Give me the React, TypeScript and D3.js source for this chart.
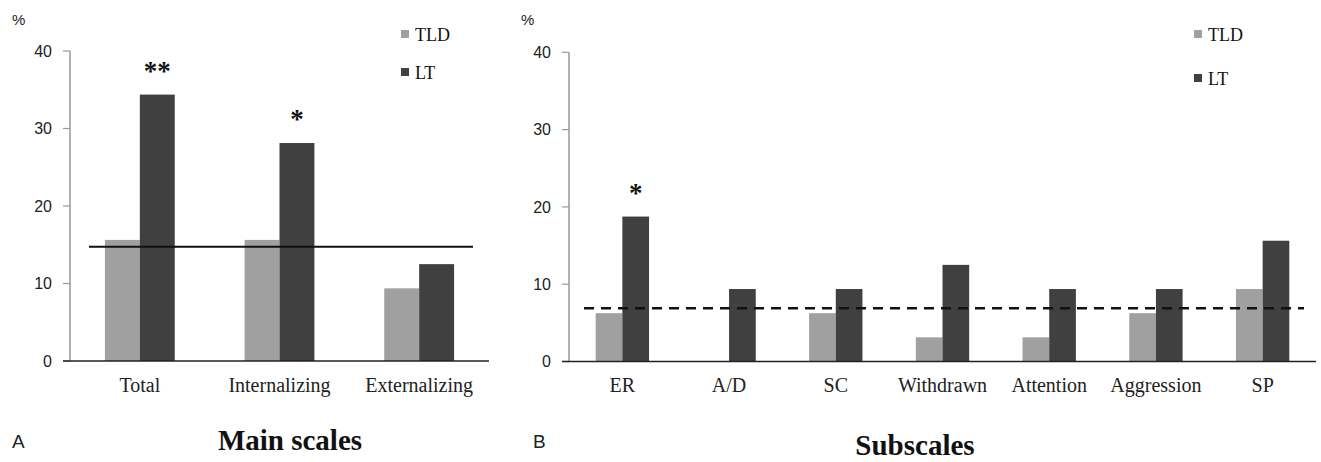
import React from "react";
import * as d3 from "d3";

// data (% of children above the clinical cut-off)
const groups = ["TLD", "LT"];
const mainCategories = ["Total", "Internalizing", "Externalizing"];
const mainTLD = [15.625, 15.625, 9.375];
const mainLT = [34.375, 28.125, 12.5];
const mainStars = ["**", "*", ""];
const mainCutoff = 14.75;

const subCategories = ["ER", "A/D", "SC", "Withdrawn", "Attention", "Aggression", "SP"];
const subTLD = [6.25, 0, 6.25, 3.125, 3.125, 6.25, 9.375];
const subLT = [18.75, 9.375, 9.375, 12.5, 9.375, 9.375, 15.625];
const subStars = ["*", "", "", "", "", "", ""];
const subCutoff = 6.9;

const yTicks = [0, 10, 20, 30, 40];

const colors = { TLD: "#a0a0a0", LT: "#404040" };
const SERIF = "'Liberation Serif', 'Times New Roman', serif";
const SANS = "'Liberation Sans', Arial, sans-serif";

const Panel = ({
  categories,
  tld,
  lt,
  stars,
  cutoff,
  dashed,
  x0,
  x1,
  y0,
  y1,
  lineFrom,
  lineTo,
  pctX,
  letter,
  letterX,
  title,
  titleX,
  titleY,
  legendX,
  legendY2,
}) => {
  const x = d3
    .scaleBand()
    .domain(categories)
    .range([x0, x1])
    .paddingInner(0.5)
    .paddingOuter(0.25);
  const xSub = d3.scaleBand().domain(groups).range([0, x.bandwidth()]);
  const y = d3.scaleLinear().domain([0, 40]).range([y0, y1]);

  const rows = categories.map((c, i) => ({ c, TLD: tld[i], LT: lt[i], star: stars[i] }));

  return (
    <g>
      {/* % label */}
      <text x={pctX} y={25} fontFamily={SANS} fontSize={15} fill="#222">
        %
      </text>

      {/* y axis */}
      <line x1={x0} x2={x0} y1={y(40)} y2={y(0)} stroke="#999" strokeWidth={1.5} />
      {yTicks.map((t) => (
        <g key={t}>
          <line x1={x0 - 7} x2={x0} y1={y(t)} y2={y(t)} stroke="#999" strokeWidth={1.2} />
          <text
            x={x0 - 18}
            y={y(t)}
            dy="0.35em"
            textAnchor="end"
            fontFamily={SANS}
            fontSize={16}
            fill="#222"
          >
            {t}
          </text>
        </g>
      ))}

      {/* bars */}
      {rows.map((r) =>
        groups.map((g) => (
          <rect
            key={r.c + g}
            x={x(r.c) + xSub(g)}
            y={y(r[g])}
            width={xSub.bandwidth()}
            height={y(0) - y(r[g])}
            fill={colors[g]}
          />
        ))
      )}

      {/* x axis */}
      <line x1={x0 - 7} x2={x1} y1={y(0)} y2={y(0)} stroke="#222" strokeWidth={1.5} />

      {/* category labels */}
      {rows.map((r) => (
        <text
          key={r.c}
          x={x(r.c) + x.bandwidth() / 2}
          y={392}
          textAnchor="middle"
          fontFamily={SERIF}
          fontSize={20}
          fill="#222"
        >
          {r.c}
        </text>
      ))}

      {/* significance stars */}
      {rows.map((r) =>
        r.star ? (
          <text
            key={"s" + r.c}
            x={x(r.c) + xSub("LT") + xSub.bandwidth() / 2}
            y={y(r.LT) - 15}
            textAnchor="middle"
            fontFamily={SERIF}
            fontWeight="bold"
            fontSize={27}
            fill="#111"
          >
            {r.star}
          </text>
        ) : null
      )}

      {/* cut-off line */}
      <line
        x1={lineFrom}
        x2={lineTo}
        y1={y(cutoff)}
        y2={y(cutoff)}
        stroke="#111"
        strokeWidth={dashed ? 2.5 : 2}
        strokeDasharray={dashed ? "10,7" : null}
      />

      {/* legend */}
      {groups.map((g, i) => {
        const ly = i === 0 ? 41 : legendY2;
        return (
          <g key={g}>
            <rect x={legendX} y={ly - 11} width={8} height={8} fill={colors[g]} />
            <text x={legendX + 14} y={ly} fontFamily={SERIF} fontSize={18} fill="#111">
              {g}
            </text>
          </g>
        );
      })}

      {/* panel letter and title */}
      <text x={letterX} y={448} fontFamily={SANS} fontSize={19} fill="#222">
        {letter}
      </text>
      <text
        x={titleX}
        y={titleY}
        textAnchor="middle"
        fontFamily={SERIF}
        fontWeight="bold"
        fontSize={29}
        fill="#111"
      >
        {title}
      </text>
    </g>
  );
};

export default function App() {
  return (
    <svg
      width={1321}
      height={462}
      style={{ position: "absolute", left: 0, top: 0, background: "#fff" }}
    >
      <rect width={1321} height={462} fill="#fff" />
      <Panel
        categories={mainCategories}
        tld={mainTLD}
        lt={mainLT}
        stars={mainStars}
        cutoff={mainCutoff}
        dashed={false}
        x0={70}
        x1={489}
        y0={361}
        y1={51}
        lineFrom={89}
        lineTo={473}
        pctX={12}
        letter="A"
        letterX={12}
        title="Main scales"
        titleX={290}
        titleY={450}
        legendX={401}
        legendY2={79}
      />
      <Panel
        categories={subCategories}
        tld={subTLD}
        lt={subLT}
        stars={subStars}
        cutoff={subCutoff}
        dashed={true}
        x0={569}
        x1={1316}
        y0={361.5}
        y1={52.3}
        lineFrom={584}
        lineTo={1304}
        pctX={521}
        letter="B"
        letterX={533}
        title="Subscales"
        titleX={915}
        titleY={455}
        legendX={1194}
        legendY2={85}
      />
    </svg>
  );
}
